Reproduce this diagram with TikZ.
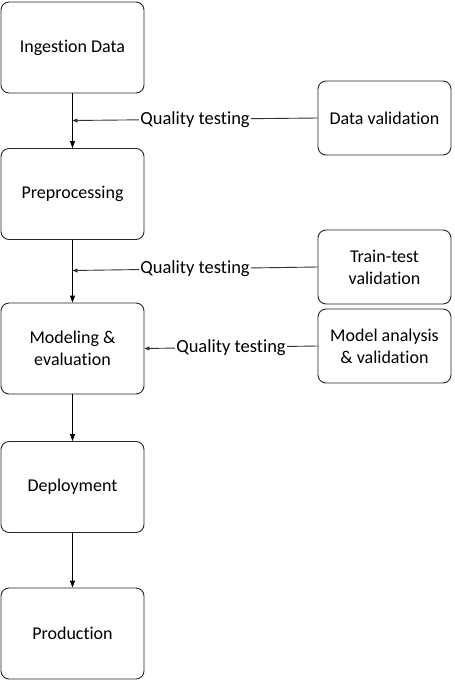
\documentclass[tikz,border=0pt]{standalone}
\usepackage{fontspec}
\setmainfont{Carlito}[Ligatures=NoCommon]
\usepackage{tikz}
\usetikzlibrary{arrows.meta,positioning}

\begin{document}
\begin{tikzpicture}[x=1pt,y=-1pt]
        %styles
        \tikzstyle{stage}=[rectangle, rounded corners=8pt, draw=black!85, line width=0.9pt, align=center, minimum width=143pt, minimum height=91pt, font=\fontsize{18}{22}\selectfont]
        \tikzstyle{check}=[rectangle, rounded corners=8pt, draw=black!85, line width=0.9pt, align=center, minimum width=133pt, minimum height=74pt, font=\fontsize{18}{22}\selectfont]
        \tikzstyle{qlabel}=[fill=white, text=black, inner sep=1pt, font=\fontsize{18.5}{22}\selectfont]
        \tikzstyle{flow}=[-{Triangle[width=5pt,length=7pt]}, line width=0.9pt, black]
        \tikzstyle{qline}=[-{Triangle[width=4pt,length=5pt]}, line width=0.9pt, black!80]

        \useasboundingbox (0,0) rectangle (455,681);

        %nodes
        \node[stage] (ing) at (72.5,47.5) {Ingestion Data};
        \node[stage] (pre) at (72.5,194) {Preprocessing};
        \node[stage] (mod) at (72.5,348.5) {Modeling \&\\evaluation};
        \node[stage] (dep) at (72.5,487) {Deployment};
        \node[stage] (prod) at (72.5,633.5) {Production};

        \node[check] (dval) at (384.5,118) {Data validation};
        \node[check] (ttval) at (384.5,267) {Train-test\\validation};
        \node[check] (mval) at (384.5,346) {Model analysis\\\& validation};

        \coordinate (q1) at (72.5,120.5);
        \coordinate (q2) at (72.5,270.5);

        %arrows
        \draw[flow] (ing)--(pre);
        \draw[flow] (pre)--(mod);
        \draw[flow] (mod)--(dep);
        \draw[flow] (dep)--(prod);

        \draw[qline] (dval.west)--node[qlabel]{Quality testing}(q1);
        \draw[qline] (ttval.west)--node[qlabel]{Quality testing}(q2);
        \draw[qline] (mval.west)--node[qlabel]{Quality testing}(mod.east);

\end{tikzpicture}
\end{document}
